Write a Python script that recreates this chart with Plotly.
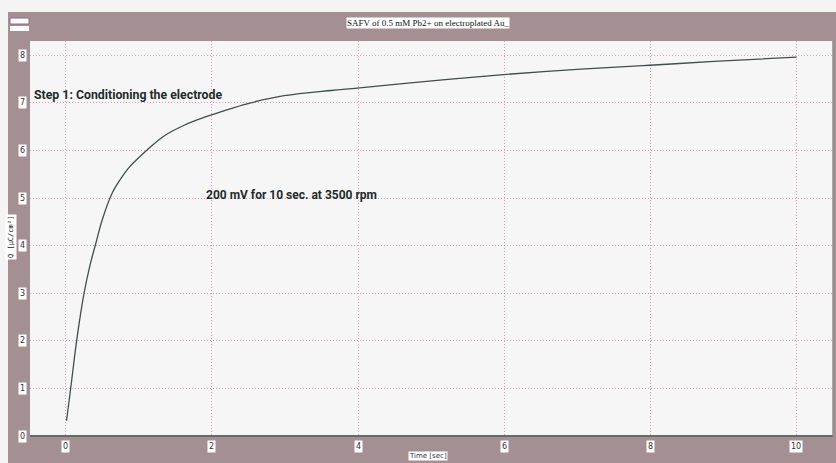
import plotly.graph_objects as go

# Charge accumulated during electrode conditioning
time_s = [0.01, 0.07, 0.15, 0.25, 0.33, 0.42, 0.50, 0.64, 0.75, 0.87, 1.12, 1.34,
          1.62, 1.94, 2.26, 2.53, 2.99, 3.63, 3.99, 4.72, 5.27, 5.95, 7.05, 7.99,
          8.87, 10.0]
charge = [0.32, 1.04, 2.02, 3.00, 3.58, 4.10, 4.55, 5.12, 5.40, 5.65, 6.02, 6.30,
          6.53, 6.72, 6.88, 7.00, 7.15, 7.26, 7.31, 7.42, 7.50, 7.59, 7.71, 7.79,
          7.87, 7.96]

x_ticks = [0, 2, 4, 6, 8, 10]
y_ticks = [0, 1, 2, 3, 4, 5, 6, 7, 8]

title_text = "SAFV of 0.5 mM Pb2+ on electroplated Au_"
x_title = "Time [sec]"
y_title = "Q [µC/cm²]"
note_step = "Step 1: Conditioning the electrode"
note_cond = "200 mV for 10 sec. at 3500 rpm"

W, H = 836, 463
ML, MR, MT, MB = 30, 3, 41, 27
PW, PH = W - ML - MR, H - MT - MB

FRAME = "#a48f92"
PLOT_BG = "#f7f6f6"
GRID = "#e0a0bc"
INK = "#1e2b2b"
NOTE_FONT = "Roboto, Liberation Sans Narrow, DejaVu Sans Condensed"


def px_x(p):
    return (p - ML) / PW


def px_y(p):
    return (H - MB - p) / PH


fig = go.Figure()
fig.add_trace(go.Scatter(
    x=time_s, y=charge, mode="lines",
    line=dict(color="#3b4f4f", width=1.3, shape="spline", smoothing=1.0),
    hoverinfo="skip", showlegend=False,
))

shapes = [
    # light strip above and left of the frame
    dict(type="rect", xref="paper", yref="paper", x0=px_x(0), x1=px_x(W + 5),
         y0=px_y(12), y1=px_y(-5), fillcolor="#f5f4f4", line_width=0, layer="below"),
    dict(type="rect", xref="paper", yref="paper", x0=px_x(-5), x1=px_x(8),
         y0=px_y(H + 5), y1=px_y(12), fillcolor="#f5f4f4", line_width=0, layer="below"),
    # small window buttons at top-left
    dict(type="rect", xref="paper", yref="paper", x0=px_x(10), x1=px_x(29),
         y0=px_y(24), y1=px_y(18), fillcolor="#fbfbfb", line=dict(color="#8a6a8a", width=1)),
    dict(type="rect", xref="paper", yref="paper", x0=px_x(10), x1=px_x(29),
         y0=px_y(31), y1=px_y(26), fillcolor="#fbfbfb", line_width=0),
    # plot border
    dict(type="line", xref="paper", yref="paper", x0=0, x1=1, y0=0, y1=0,
         line=dict(color="#5e6e66", width=2)),
    dict(type="line", xref="paper", yref="paper", x0=1, x1=1, y0=0, y1=1,
         line=dict(color="#8e8e8e", width=1.5)),
]

annotations = [
    dict(text=title_text, xref="paper", yref="paper", x=px_x(428), y=px_y(23),
         xanchor="center", yanchor="middle", showarrow=False,
         font=dict(family="Liberation Serif", size=9, color="#111"),
         bgcolor="#ffffff", borderpad=0),
    dict(text=x_title, xref="paper", yref="paper", x=px_x(428), y=px_y(456),
         xanchor="center", yanchor="middle", showarrow=False,
         font=dict(family="DejaVu Sans", size=7, color="#333"),
         bgcolor="#ffffff", borderpad=0),
    dict(text=y_title, xref="paper", yref="paper", x=px_x(11), y=px_y(237),
         xanchor="center", yanchor="middle", textangle=-90, showarrow=False,
         font=dict(family="DejaVu Sans Mono", size=7, color="#222"),
         bgcolor="#ffffff", borderpad=1),
    dict(text=f"<b>{note_step}</b>", xref="paper", yref="paper", x=px_x(32), y=px_y(95),
         xanchor="left", yanchor="middle", showarrow=False,
         font=dict(family=NOTE_FONT, size=12.3, color=INK)),
    dict(text=f"<b>{note_cond}</b>", xref="paper", yref="paper", x=px_x(204), y=px_y(195),
         xanchor="left", yanchor="middle", showarrow=False,
         font=dict(family=NOTE_FONT, size=12, color=INK)),
]

for t in x_ticks:
    annotations.append(dict(text=str(t), xref="x", yref="paper", x=t, y=px_y(447),
                            xanchor="center", yanchor="middle",
                            showarrow=False, bgcolor="#ffffff", borderpad=1,
                            font=dict(family="DejaVu Sans", size=8, color="#333")))
for t in y_ticks:
    annotations.append(dict(text=str(t), xref="paper", yref="y", x=px_x(22), y=t,
                            xanchor="center", yanchor="middle",
                            showarrow=False, bgcolor="#ffffff", borderpad=1,
                            font=dict(family="DejaVu Sans", size=8, color="#333")))

fig.update_layout(
    width=W, height=H,
    margin=dict(l=ML, r=MR, t=MT, b=MB),
    paper_bgcolor=FRAME, plot_bgcolor=PLOT_BG,
    shapes=shapes, annotations=annotations,
    xaxis=dict(range=[-0.49, 10.5], tickvals=x_ticks, showticklabels=False,
               showgrid=True, gridcolor=GRID, griddash="1px,2px", gridwidth=1,
               zeroline=False, ticks="", fixedrange=True),
    yaxis=dict(range=[0, 8.3], tickvals=y_ticks, showticklabels=False,
               showgrid=True, gridcolor=GRID, griddash="1px,2px", gridwidth=1,
               zeroline=False, ticks="", fixedrange=True),
)

fig.write_html("out.html")
